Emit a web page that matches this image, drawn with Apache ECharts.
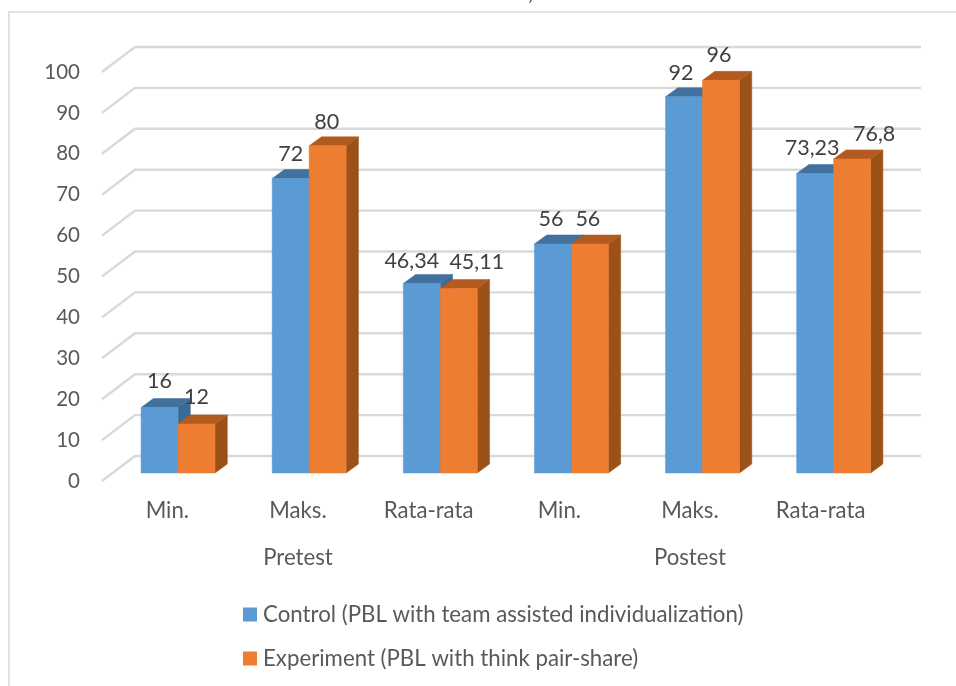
<!DOCTYPE html>
<html><head><meta charset="utf-8">
<style>html,body{margin:0;padding:0;background:#fff}#c{width:956px;height:686px}</style>
<script src="https://cdn.jsdelivr.net/npm/echarts@6/dist/echarts.min.js"></script>
</head><body><div id="c"></div>
<script>
const categories = ['Min.','Maks.','Rata-rata','Min.','Maks.','Rata-rata'];
const groups = ['Pretest','Postest'];
const controlValues = [16,72,46.34,56,92,73.23];
const experimentValues = [12,80,45.11,56,96,76.8];
const ticks = [0,10,20,30,40,50,60,70,80,90,100];
const controlLabelDx = [0,0,-10,-2,-3,-3];
const experimentLabelDx = [0,-1,18,-2,-2,22];
const controlLabelDy = [-26,-24,-22,-25,-24,-25.5];
const experimentLabelDy = [-27,-24,-26.5,-25,-25,-25];

const FONT = 'Lato';
const BAR_SHIFT = [10.7,-8], BAND_STRETCH = 0.45, BAR_RATIO = 0.283, DEPTH = [12.3,-9], WALL = [33,-25], WALL_END = 35;

function fmt(v){ return String(v).replace('.',','); }

function gridItem(params, api){
  const cs = params.coordSys;
  const y = api.coord([0, api.value(1)])[1];
  const x0 = cs.x, x1 = cs.x + cs.width;
  return {type:'polyline', silent:true,
    shape:{points:[[x0,y],[x0+WALL[0],y+WALL[1]],[x1+WALL_END,y+WALL[1]]]},
    style:{stroke:'#D9D9D9',lineWidth:2.4,fill:null}};
}
function barRenderer(side, front, topC, sideC, dxs, dys){
  return function(params, api){
    const idx = api.value(0), v = api.value(1);
    const p0 = api.coord([idx,0]), p1 = api.coord([idx,v]);
    const w = api.size([1,0])[0]*BAR_RATIO;
    const xl = p0[0]+BAR_SHIFT[0]+idx*BAND_STRETCH+(side<0?-w:0), xr = xl+w;
    const yb = p0[1]+BAR_SHIFT[1], yt = p1[1]+BAR_SHIFT[1];
    const dx = DEPTH[0], dy = DEPTH[1];
    const poly = (pts,c)=>({type:'polygon',shape:{points:pts},style:{fill:c,stroke:c,lineWidth:0.5}});
    return {type:'group',children:[
      poly([[xr,yb],[xr+dx,yb+dy],[xr+dx,yt+dy],[xr,yt]],sideC),
      poly([[xl,yt],[xl+dx,yt+dy],[xr+dx,yt+dy],[xr,yt]],topC),
      poly([[xl,yb],[xr,yb],[xr,yt],[xl,yt]],front),
      {type:'text',z2:100,silent:true,style:{
        x:(xl+xr)/2+dxs[idx],y:yt+dys[idx],text:fmt(v),align:'center',verticalAlign:'middle',
        font:'21.5px '+FONT,fill:'#404040'}}
    ]};
  };
}
const chart = echarts.init(document.getElementById('c'),null,{renderer:'canvas'});
chart.setOption({
  animation:false,
  backgroundColor:'#fff',
  textStyle:{fontFamily:FONT},
  grid:{left:102,top:72,width:784,height:409,containLabel:false},
  xAxis:[
    {type:'category',data:categories,position:'bottom',axisLine:{show:false},axisTick:{show:false},
     axisLabel:{interval:0,margin:19,fontSize:22.2,fontFamily:FONT,color:'#595959'}},
    {type:'category',data:groups,position:'bottom',offset:47,axisLine:{show:false},axisTick:{show:false},
     axisLabel:{interval:0,margin:19,fontSize:22.2,fontFamily:FONT,color:'#595959'}}
  ],
  yAxis:{type:'value',min:0,max:100,interval:10,axisLine:{show:false},axisTick:{show:false},splitLine:{show:false},
     axisLabel:{margin:22,fontSize:20.5,fontFamily:FONT,color:'#595959'}},
  legend:{orient:'vertical',left:243,top:603.5,padding:0,itemWidth:14,itemHeight:14,itemGap:22,icon:'rect',
     data:['Control (PBL with team assisted individualization)','Experiment (PBL with think pair-share)'],
     textStyle:{fontSize:22.25,fontFamily:FONT,color:'#595959',padding:[0,0,0,1]},selectedMode:false},
  graphic:[
    {type:'polyline',silent:true,z:-1,shape:{points:[[9,686],[9,12],[956,12]]},
     style:{stroke:'#D9D9D9',lineWidth:1.5,fill:null}},
    {type:'text',silent:true,x:528,y:-18,style:{text:',',font:'22px '+FONT,fill:'#222222'}}
  ],
  series:[
    {type:'custom',name:'wall',silent:true,z:1,renderItem:gridItem,data:ticks.map(t=>[0,t]),clip:false,encode:{x:0,y:1}},
    {type:'custom',name:'Control (PBL with team assisted individualization)',z:2,clip:false,
     itemStyle:{color:'#5B9BD5'},renderItem:barRenderer(-1,'#5B9BD5','#41719C','#3B6A96',controlLabelDx,controlLabelDy),
     data:controlValues.map((v,i)=>[i,v]),encode:{x:0,y:1}},
    {type:'custom',name:'Experiment (PBL with think pair-share)',z:2,clip:false,
     itemStyle:{color:'#ED7D31'},renderItem:barRenderer(1,'#ED7D31','#B35B1F','#9C5119',experimentLabelDx,experimentLabelDy),
     data:experimentValues.map((v,i)=>[i,v]),encode:{x:0,y:1}}
  ]
});
</script></body></html>
